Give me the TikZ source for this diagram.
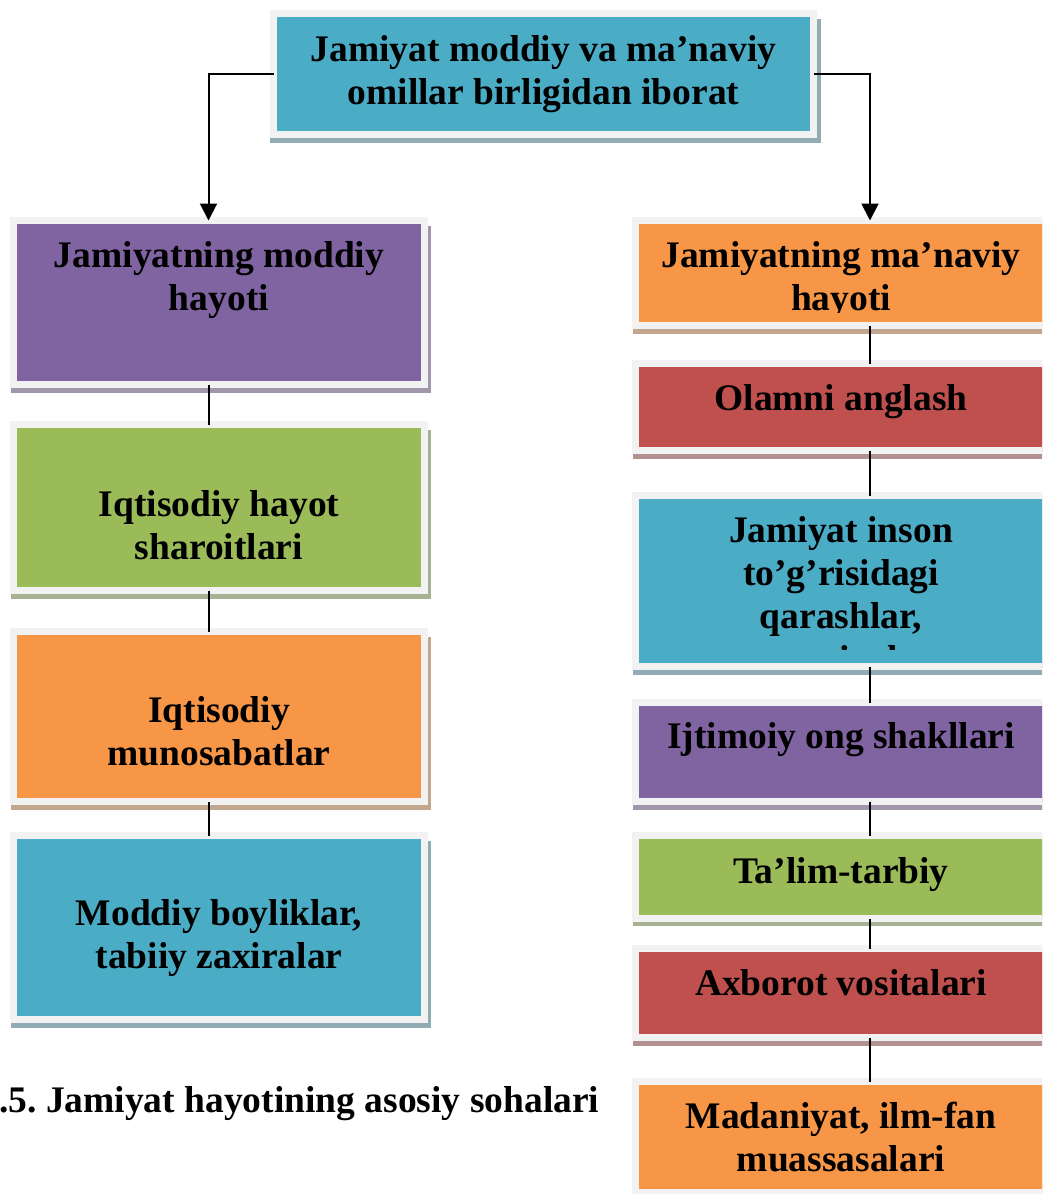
\documentclass[tikz,border=0pt]{standalone}
\usepackage{fontspec}
\setmainfont{Liberation Serif}
\usetikzlibrary{arrows.meta,shadows}
\definecolor{kok}{HTML}{4BACC6}
\definecolor{binafsha}{HTML}{8064A2}
\definecolor{yashil}{HTML}{9BBB59}
\definecolor{sariq}{HTML}{F79646}
\definecolor{qizil}{HTML}{C0504D}
\definecolor{ramka}{HTML}{F2F2F2}
\frenchspacing
\tikzset{
  soha/.style={rectangle, fill=#1, draw=ramka, line width=7pt, inner sep=0pt, outer sep=0pt, minimum width=411pt,
    drop shadow={shadow xshift=2pt, shadow yshift=-7pt, shadow scale=1.02, fill=#1!40!gray!75!white, opacity=1}},
  matn/.style={font=\bfseries\fontsize{37.5}{43}\selectfont, align=center, inner sep=0pt},
  chiziq/.style={line width=2pt},
  strelka/.style={line width=2pt, -{Triangle[length=17pt,width=17pt]}}
}
\begin{document}
\begin{tikzpicture}[x=1pt,y=-1pt]
\useasboundingbox (0,0) rectangle (1042,1194);
\clip (0,0) rectangle (1042,1194);
\node[soha=kok, minimum width=540pt, minimum height=121pt] (jamiyat) at (543.5,74) {};
\node[matn] (jamiyatt) at (jamiyat.center) {Jamiyat moddiy va ma’naviy\\omillar birligidan iborat};

\node[soha=binafsha, minimum height=164pt] (moddiy) at (219,302.5) {};
\node[matn] (moddiyt) at ([yshift=22pt]moddiy.center) {Jamiyatning moddiy\\hayoti};
\node[soha=yashil, minimum height=166pt] (iqtisod) at (219,507.5) {};
\node[matn] (iqtisodt) at ([yshift=-17.5pt]iqtisod.center) {Iqtisodiy hayot\\sharoitlari};
\node[soha=sariq, minimum height=170pt] (munosabat) at (219,716.5) {};
\node[matn] (munosabatt) at ([yshift=-14.5pt]munosabat.center) {Iqtisodiy\\munosabatlar};
\node[soha=kok, minimum height=184pt] (boylik) at (219,927.5) {};
\node[matn] (boylikt) at ([yshift=-10.5pt]boylik.center) {Moddiy boyliklar,\\tabiiy zaxiralar};

\node[soha=sariq, minimum height=105pt] (manaviy) at (841,273) {};
\begin{scope}
\clip ([yshift=13pt]manaviy.south west) rectangle (manaviy.north east);
\node[matn] (manaviyt) at ([yshift=-7.5pt]manaviy.center) {Jamiyatning ma’naviy\\hayoti};
\end{scope}
\node[soha=qizil, minimum height=87pt] (olam) at (841,407) {};
\node[matn] (olamt) at ([yshift=5.5pt]olam.center) {Olamni anglash};
\node[soha=kok, minimum height=171pt] (qarash) at (841,581) {};
\begin{scope}
\clip ([yshift=17pt]qarash.south west) rectangle (qarash.north east);
\node[matn] (qarasht) at ([yshift=-17.5pt]qarash.center) {Jamiyat inson\\to’g’risidagi\\qarashlar,\\nazariyalar};
\end{scope}
\node[soha=binafsha, minimum height=99pt] (ong) at (841,752) {};
\node[matn] (ongt) at ([yshift=12.5pt]ong.center) {Ijtimoiy ong shakllari};
\node[soha=yashil, minimum height=83pt] (talim) at (841,877) {};
\node[matn] (talimt) at ([yshift=2.5pt]talim.center) {Ta’lim-tarbiy};
\node[soha=qizil, minimum height=89pt] (axborot) at (841,993) {};
\node[matn] (axborott) at ([yshift=10.5pt]axborot.center) {Axborot vositalari};
\node[soha=sariq, minimum height=111pt] (madaniyat) at (841,1137) {};
\node[matn] (madaniyatt) at (madaniyat.center) {Madaniyat, ilm-fan\\muassasalari};

\node[matn, anchor=base west] (izoh) at (-1,1112) {.5. Jamiyat hayotining asosiy sohalari};

\coordinate (chapchiziq) at (208.5,0);
\coordinate (ongchiziq) at (870,0);
\draw[strelka] (jamiyat.west) -| (moddiy.north -| chapchiziq);
\draw[strelka] (jamiyat.east) -| (manaviy.north -| ongchiziq);
\draw[chiziq] (moddiy.south -| chapchiziq) -- (iqtisod.north -| chapchiziq);
\draw[chiziq] (iqtisod.south -| chapchiziq) -- (munosabat.north -| chapchiziq);
\draw[chiziq] (munosabat.south -| chapchiziq) -- (boylik.north -| chapchiziq);
\draw[chiziq] (manaviy.south -| ongchiziq) -- (olam.north -| ongchiziq);
\draw[chiziq] (olam.south -| ongchiziq) -- (qarash.north -| ongchiziq);
\draw[chiziq] (qarash.south -| ongchiziq) -- (ong.north -| ongchiziq);
\draw[chiziq] (ong.south -| ongchiziq) -- (talim.north -| ongchiziq);
\draw[chiziq] (talim.south -| ongchiziq) -- (axborot.north -| ongchiziq);
\draw[chiziq] (axborot.south -| ongchiziq) -- (madaniyat.north -| ongchiziq);
\end{tikzpicture}
\end{document}
